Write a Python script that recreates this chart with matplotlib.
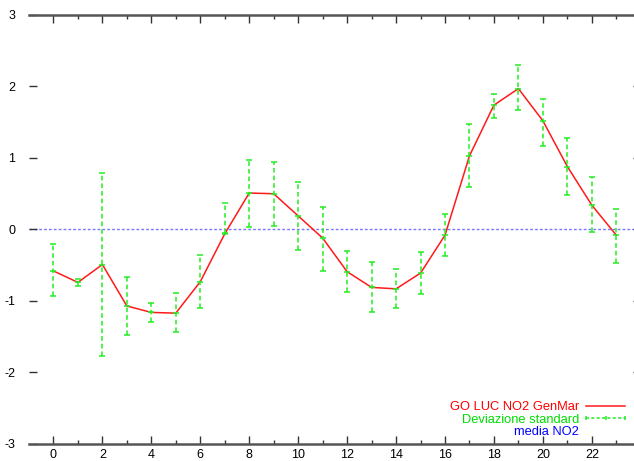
import numpy as np
import matplotlib.pyplot as plt

plt.rcParams['font.family'] = ['Liberation Sans', 'DejaVu Sans']
plt.rcParams['axes.unicode_minus'] = False

# hourly NO2 anomaly and standard deviation band
hours = list(range(24))
no2 = [-0.58, -0.74, -0.49, -1.07, -1.16, -1.17, -0.73, -0.06, 0.51, 0.50, 0.19, -0.12,
       -0.59, -0.81, -0.83, -0.61, -0.08, 1.03, 1.74, 1.97, 1.52, 0.88, 0.34, -0.08]
dev_low = [-0.93, -0.79, -1.77, -1.48, -1.29, -1.44, -1.10, -0.05, 0.04, 0.05, -0.29, -0.58,
           -0.88, -1.16, -1.10, -0.90, -0.37, 0.59, 1.56, 1.67, 1.17, 0.48, -0.04, -0.47]
dev_high = [-0.20, -0.69, 0.79, -0.67, -1.03, -0.89, -0.36, 0.375, 0.97, 0.95, 0.66, 0.32,
            -0.30, -0.46, -0.55, -0.32, 0.21, 1.47, 1.90, 2.30, 1.83, 1.28, 0.73, 0.28]
media = 0.0

labels = ['GO LUC NO2 GenMar', 'Deviazione standard', 'media NO2']

red = '#ff1a1a'
green = '#22ee22'
blue = '#7777ff'
axis_col = '#555555'

fig = plt.figure(figsize=(6.34, 4.61), dpi=100)
ax = fig.add_axes([0.0457, 0.0369, 0.965, 0.9306])

# mean line
ax.axhline(media, color=blue, lw=1, ls=(0, (2, 1.5)), zorder=1)

# hourly curve
ax.plot(hours, no2, color=red, lw=1.1, zorder=2)

# error bars (dashed, with caps and centre tick)
ax.vlines(hours, dev_low, dev_high, colors=green, lw=1.1, linestyles=(0, (3, 2)), zorder=3)
for ys in (dev_low, dev_high, no2):
    ax.plot(hours, ys, ls='none', marker='_', ms=4.5, mew=1.1, color=green, zorder=3)

ax.set_xlim(-1, 24)
ax.set_ylim(-3, 3)
ax.set_xticks(hours[::2])
ax.set_xticks(hours[1::2], minor=True)
ax.set_yticks([-3, -2, -1, 0, 1, 2, 3])

for s in ['top', 'bottom']:
    ax.spines[s].set_color(axis_col)
    ax.spines[s].set_linewidth(1.8)
ax.spines['left'].set_visible(False)
ax.spines['right'].set_color(axis_col)

ax.tick_params(axis='x', which='major', direction='in', top=True, length=6, width=1,
               color='#333333', labelsize=9, pad=3.5)
ax.tick_params(axis='x', which='minor', direction='in', top=True, length=3, width=1,
               color='#333333')
ax.tick_params(axis='y', direction='in', right=True, length=6, width=1,
               color='#333333', labelsize=9, pad=10)

# legend drawn gnuplot style: text right aligned, sample to the right
base_y = [0.0781, 0.0494, 0.0198]
line_y = [0.0893, 0.0599]
txt_x = 0.8987
x0, x1 = 0.911, 0.974
fs = 9.3
ax.text(txt_x, base_y[0], labels[0], color='#ff0000', fontsize=fs, ha='right',
        va='baseline', transform=ax.transAxes)
ax.plot([x0, x1], [line_y[0]] * 2, color=red, lw=1.1, transform=ax.transAxes, clip_on=False)
ax.text(txt_x, base_y[1], labels[1], color='#00dd00', fontsize=fs, ha='right',
        va='baseline', transform=ax.transAxes)
ax.plot([x0, x1], [line_y[1]] * 2, color=green, lw=1.1, ls=(0, (2, 1.5)),
        transform=ax.transAxes, clip_on=False)
ax.plot([x0, (x0 + x1) / 2, x1], [line_y[1]] * 3, ls='none', marker='|', ms=3.5, mew=1.1,
        color=green, transform=ax.transAxes, clip_on=False)
ax.text(txt_x, base_y[2], labels[2], color='#0000ff', fontsize=fs, ha='right',
        va='baseline', transform=ax.transAxes)

fig.savefig('out.png', dpi=100)
